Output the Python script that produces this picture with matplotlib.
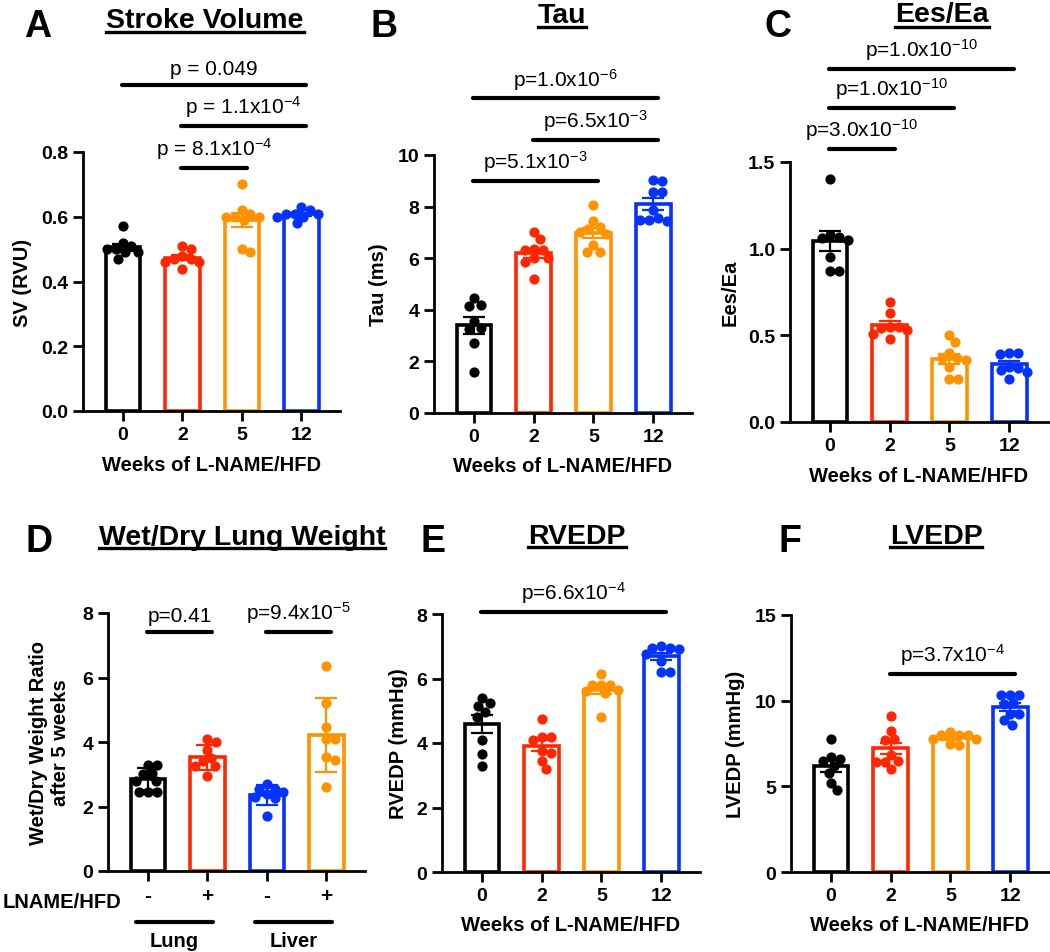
import matplotlib
matplotlib.use('Agg')
import matplotlib.pyplot as plt
from matplotlib.lines import Line2D
import numpy as np

plt.rcParams['font.family'] = ['Liberation Sans', 'DejaVu Sans']
plt.rcParams['mathtext.fontset'] = 'custom'
plt.rcParams['mathtext.rm'] = 'Liberation Sans'
plt.rcParams['mathtext.it'] = 'Liberation Sans:italic'
plt.rcParams['mathtext.bf'] = 'Liberation Sans:bold'

COLORS = ['#000000', '#FF2600', '#FF9300', '#0433FF']
WEEKS = ['0', '2', '5', '12']

# A - stroke volume (RVU)
sv_0 = [0.57, 0.51, 0.52, 0.49, 0.50, 0.47, 0.50, 0.49]
sv_2 = [0.50, 0.51, 0.47, 0.47, 0.48, 0.46, 0.44, 0.46]
sv_5 = [0.70, 0.62, 0.61, 0.60, 0.60, 0.59, 0.60, 0.50, 0.49]
sv_12 = [0.63, 0.61, 0.62, 0.60, 0.61, 0.61, 0.60, 0.58]

# B - tau (ms)
tau_0 = [4.2, 4.15, 4.45, 3.55, 3.3, 3.25, 2.7, 1.6]
tau_2 = [7.0, 6.75, 6.35, 6.3, 6.3, 6.0, 6.0, 5.85, 5.2]
tau_5 = [8.05, 7.45, 7.2, 7.15, 7.0, 6.95, 6.5, 6.25, 6.25]
tau_12 = [9.05, 9.0, 8.55, 8.55, 7.85, 7.5, 7.5, 7.45, 7.55]

# C - Ees/Ea
ees_0 = [1.40, 1.08, 1.07, 1.06, 1.05, 0.95, 0.87, 0.87]
ees_2 = [0.69, 0.63, 0.55, 0.55, 0.54, 0.53, 0.51, 0.48]
ees_5 = [0.50, 0.46, 0.40, 0.37, 0.37, 0.36, 0.32, 0.25, 0.25]
ees_12 = [0.40, 0.40, 0.39, 0.32, 0.31, 0.30, 0.29, 0.25]

# D - wet/dry weight ratio after 5 weeks
lung_ctrl = [3.3, 3.3, 3.05, 3.0, 2.8, 2.8, 2.45, 2.45, 2.45]
lung_lh = [4.1, 4.0, 3.75, 3.5, 3.4, 3.25, 3.25, 2.95]
liver_ctrl = [2.7, 2.55, 2.55, 2.45, 2.4, 2.3, 2.25, 1.7]
liver_lh = [6.35, 5.2, 4.45, 4.1, 4.1, 3.55, 3.45, 2.6]
D_COLORS = ['#000000', '#FF2600', '#0433FF', '#FF9300']
D_TICKS = ['-', '+', '-', '+']

# E - RVEDP (mmHg)
rv_0 = [5.4, 5.25, 5.15, 4.95, 4.8, 4.1, 3.65, 3.3]
rv_2 = [4.75, 4.2, 4.2, 4.1, 3.75, 3.7, 3.45, 3.2]
rv_5 = [6.15, 5.8, 5.8, 5.8, 5.6, 5.65, 5.55, 4.8]
rv_12 = [7.0, 6.9, 6.95, 6.95, 6.75, 6.55, 6.2, 6.2]

# F - LVEDP (mmHg)
lv_0 = [7.75, 6.7, 6.6, 6.2, 6.45, 5.75, 5.2, 4.8]
lv_2 = [9.1, 8.25, 7.75, 7.7, 6.8, 6.4, 6.0, 6.4, 6.5]
lv_5 = [8.0, 8.0, 8.0, 8.15, 7.75, 7.4, 7.45, 7.75]
lv_12 = [10.35, 10.35, 10.35, 9.85, 9.8, 8.6, 9.2, 9.25, 8.85]

W, H = 1050, 953
fig = plt.figure(figsize=(W / 100, H / 100), dpi=100)


def px_axes(l, t, r, b):
    return fig.add_axes([l / W, 1 - b / H, (r - l) / W, (b - t) / H])


def swarm(vals, ax, dia=9.0):
    x0, x1 = ax.get_xlim()
    y0, y1 = ax.get_ylim()
    sx = ax.bbox.width / (x1 - x0)
    sy = ax.bbox.height / (y1 - y0)
    ys = np.asarray(vals) * sy
    out = np.zeros(len(vals))
    px, py = [], []
    for i in np.argsort(-ys):
        y = ys[i]
        found = 0.0
        for k in range(400):
            hit = False
            for sgn in (1, -1):
                xo = sgn * k * 0.5
                if all((xo - a) ** 2 + (y - b) ** 2 >= dia ** 2 for a, b in zip(px, py)):
                    found = xo
                    hit = True
                    break
            if hit:
                break
        px.append(found)
        py.append(y)
        out[i] = found / sx
    return out


def bar_panel(ax, groups, colors, ymax, yticks, fmt, sd=False):
    ax.set_xlim(-0.67, 3.65)
    ax.set_ylim(0, ymax)
    for i, (vals, c) in enumerate(zip(groups, colors)):
        v = np.asarray(vals)
        m = v.mean()
        e = v.std(ddof=1) if sd else v.std(ddof=1) / np.sqrt(len(v))
        ax.bar(i, m, width=0.58, facecolor='white', edgecolor=c, linewidth=2.6, zorder=2)
        ax.errorbar(i, m, yerr=e, color=c, capsize=8, elinewidth=1.6, capthick=1.6, zorder=3)
        ax.scatter(i + swarm(v, ax), v, s=54, color=c, zorder=4, linewidths=0)
    ax.set_yticks(yticks)
    ax.set_yticklabels([fmt.format(t) for t in yticks])
    for s in ['top', 'right']:
        ax.spines[s].set_visible(False)
    for s in ['left', 'bottom']:
        ax.spines[s].set_linewidth(2)
    ax.tick_params(width=2, length=7, labelsize=14)
    for lab in ax.get_xticklabels() + ax.get_yticklabels():
        lab.set_fontweight('bold')


def sig(ax, i, j, y, label):
    ax.plot([i - 0.02, j + 0.08], [y, y], color='k', lw=3, solid_capstyle='round', clip_on=False, zorder=5)
    ax.annotate(label, xy=((i + j + 0.06) / 2, y), xytext=(0, 5), textcoords='offset points',
                ha='center', va='bottom', fontsize=15, annotation_clip=False)


def labels(ax, ylab, yx, xlab=True):
    ax.set_ylabel(ylab, fontsize=14.5, fontweight='bold', va='center')
    ax.yaxis.set_label_coords(yx, 0.5)
    if xlab:
        ax.set_xlabel('Weeks of L-NAME/HFD', fontsize=14.5, fontweight='bold', va='center')
        ax.xaxis.set_label_coords(0.5, -0.205)


def head(letter, lx, ly, title, tx, ty, uy):
    fig.text(lx / W, 1 - ly / H, letter, fontsize=27, fontweight='bold', ha='center', va='baseline')
    t = fig.text(tx / W, 1 - ty / H, title, fontsize=20.5, fontweight='bold', ha='center', va='baseline')
    bb = t.get_window_extent(fig.canvas.get_renderer())
    fig.add_artist(Line2D([bb.x0 / W, bb.x1 / W], [1 - uy / H, 1 - uy / H],
                          transform=fig.transFigure, color='k', lw=2.4))


# A
axA = px_axes(83, 153, 340, 412)
bar_panel(axA, [sv_0, sv_2, sv_5, sv_12], COLORS, 0.8, [0, 0.2, 0.4, 0.6, 0.8], '{:.1f}')
axA.set_xticks(range(4))
axA.set_xticklabels(WEEKS, fontweight='bold')
labels(axA, 'SV (RVU)', -0.237)
sig(axA, 0, 3, 1.006, 'p = 0.049')
sig(axA, 1, 3, 0.88, 'p = 1.1x10$^{-4}$')
sig(axA, 1, 2, 0.75, 'p = 8.1x10$^{-4}$')
head('A', 38, 37, 'Stroke Volume', 205, 28, 32.5)

# B
axB = px_axes(434, 156, 692, 414)
bar_panel(axB, [tau_0, tau_2, tau_5, tau_12], COLORS, 10, [0, 2, 4, 6, 8, 10], '{:d}')
axB.set_xticks(range(4))
axB.set_xticklabels(WEEKS, fontweight='bold')
labels(axB, 'Tau (ms)', -0.217)
sig(axB, 0, 3, 12.19, 'p=1.0x10$^{-6}$')
sig(axB, 1, 3, 10.58, 'p=6.5x10$^{-3}$')
sig(axB, 0, 2, 8.98, 'p=5.1x10$^{-3}$')
head('B', 384, 37, 'Tau', 562, 23, 28)

# C
axC = px_axes(790, 163, 1048, 423)
bar_panel(axC, [ees_0, ees_2, ees_5, ees_12], COLORS, 1.5, [0, 0.5, 1.0, 1.5], '{:.1f}')
axC.set_xticks(range(4))
axC.set_xticklabels(WEEKS, fontweight='bold')
labels(axC, 'Ees/Ea', -0.233)
sig(axC, 0, 1, 1.577, 'p=3.0x10$^{-10}$')
sig(axC, 0, 2, 1.812, 'p=1.0x10$^{-10}$')
sig(axC, 0, 3, 2.034, 'p=1.0x10$^{-10}$')
head('C', 778, 37, 'Ees/Ea', 942, 22, 28)

# D
axD = px_axes(108, 614, 365, 872)
bar_panel(axD, [lung_ctrl, lung_lh, liver_ctrl, liver_lh], D_COLORS, 8, [0, 2, 4, 6, 8], '{:d}', sd=True)
axD.set_xticks(range(4))
axD.set_xticklabels(D_TICKS, fontweight='bold', fontsize=15)
labels(axD, 'Wet/Dry Weight Ratio\nafter 5 weeks', -0.226, xlab=False)
sig(axD, 0, 1, 7.42, 'p=0.41')
sig(axD, 2, 3, 7.42, 'p=9.4x10$^{-5}$')
fig.text(121 / W, 1 - 903 / H, 'LNAME/HFD', fontsize=14.5, fontweight='bold', ha='right', va='center')
for name, (a, b) in [('Lung', (0, 1)), ('Liver', (2, 3))]:
    tr = axD.get_xaxis_transform()
    yl = -(923 - 872) / 258
    axD.plot([a - 0.2, b + 0.1], [yl, yl], color='k', lw=3, transform=tr, clip_on=False, solid_capstyle='round')
    axD.text((a + b) / 2 - 0.05, -(942 - 872) / 258, name, transform=tr, ha='center', va='center',
             fontsize=14.5, fontweight='bold')
head('D', 39, 552, 'Wet/Dry Lung Weight', 242, 545, 549)

# E
axE = px_axes(442, 615, 700, 873)
bar_panel(axE, [rv_0, rv_2, rv_5, rv_12], COLORS, 8, [0, 2, 4, 6, 8], '{:d}')
axE.set_xticks(range(4))
axE.set_xticklabels(WEEKS, fontweight='bold')
labels(axE, 'RVEDP (mmHg)', -0.17)
sig(axE, 0, 3, 8.07, 'p=6.6x10$^{-4}$')
head('E', 433, 552, 'RVEDP', 577, 544, 548)

# F
axF = px_axes(791, 616, 1049, 873)
bar_panel(axF, [lv_0, lv_2, lv_5, lv_12], COLORS, 15, [0, 5, 10, 15], '{:d}')
axF.set_xticks(range(4))
axF.set_xticklabels(WEEKS, fontweight='bold')
labels(axF, 'LVEDP (mmHg)', -0.217)
sig(axF, 1, 3, 11.55, 'p=3.7x10$^{-4}$')
head('F', 790, 552, 'LVEDP', 936, 544, 548)

fig.savefig('out.png', dpi=100, facecolor='white')
